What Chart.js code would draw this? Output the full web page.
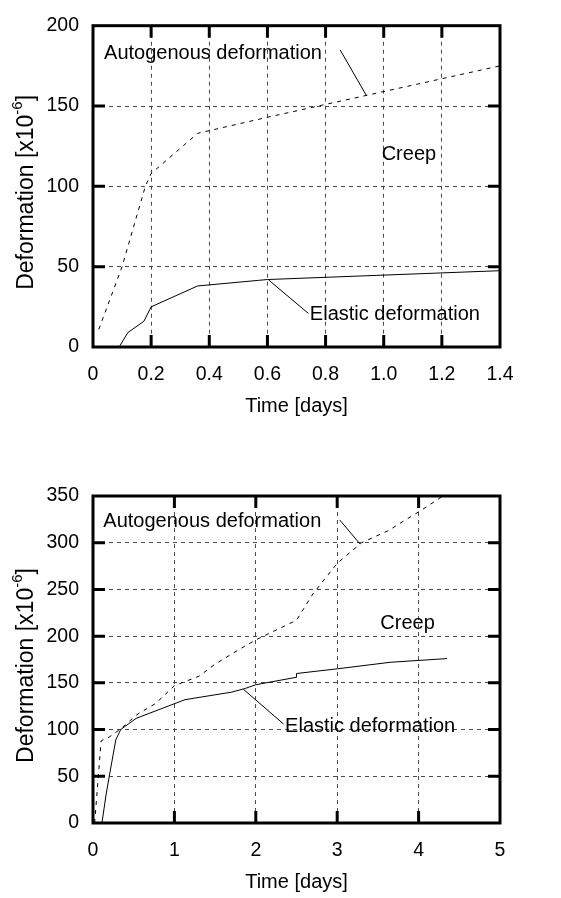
<!DOCTYPE html>
<html>
<head>
<meta charset="utf-8">
<script src="https://cdn.jsdelivr.net/npm/chart.js@4.4.1/dist/chart.umd.min.js"></script>
<style>
  html, body { margin: 0; padding: 0; background: #fff; }
  canvas { display: block; }
</style>
</head>
<body>
<canvas id="early" width="561" height="449"></canvas>
<canvas id="late" width="561" height="449"></canvas>
<script>
// top chart: first 1.4 days
const earlyAutoX = [0.02, 0.1, 0.18, 0.2, 0.36, 0.6, 1.0, 1.4];
const earlyAutoY = [11, 50, 100, 108, 133, 143, 159, 175];
const earlyElasticX = [0.09, 0.12, 0.175, 0.2, 0.36, 0.57, 0.6, 1.4];
const earlyElasticY = [0, 9, 16, 25, 38, 41.5, 42, 47.5];

// bottom chart: up to 5 days
const lateAutoX = [0.02, 0.1, 0.2, 0.33, 0.54, 0.77, 1.0, 1.3, 1.5, 1.8, 2.0, 2.5, 2.7, 3.0, 3.3, 3.63, 3.85, 4.02, 4.3];
const lateAutoY = [0, 88, 92, 100, 116, 128, 147, 157, 170, 186, 196, 217, 245, 278, 300, 313, 325, 334, 350];
const lateElasticX = [0.11, 0.16, 0.2, 0.28, 0.34, 0.53, 0.8, 1.13, 1.7, 1.87, 2.0, 2.5, 2.5, 3.0, 3.65, 4.35];
const lateElasticY = [0, 30, 50, 89, 100, 112, 121, 132, 140, 144, 148, 156, 160, 165, 172, 176];

const FONT = '"Liberation Sans", Arial, sans-serif';

function pairs(xs, ys) {
    return xs.map((v, i) => ({x: v, y: ys[i]}));
}

// frame, inner ticks, notes and the y title with superscript
const framePlugin = {
    id: 'frame',
    afterDraw(chart, args, opts) {
        const ctx = chart.ctx;
        const a = chart.chartArea;
        const xs = chart.scales.x;
        const ys = chart.scales.y;
        ctx.save();
        ctx.setLineDash([]);
        ctx.strokeStyle = '#000';
        ctx.lineWidth = 3;
        ctx.strokeRect(a.left, a.top, a.right - a.left, a.bottom - a.top);
        ctx.beginPath();
        xs.ticks.forEach((t) => {
            const px = xs.getPixelForValue(t.value);
            if (px > a.left + 2 && px < a.right - 2) {
                ctx.moveTo(px, a.bottom); ctx.lineTo(px, a.bottom - 12);
                ctx.moveTo(px, a.top); ctx.lineTo(px, a.top + 12);
            }
        });
        ys.ticks.forEach((t) => {
            const py = ys.getPixelForValue(t.value);
            if (py > a.top + 2 && py < a.bottom - 2) {
                ctx.moveTo(a.left, py); ctx.lineTo(a.left + 12, py);
                ctx.moveTo(a.right, py); ctx.lineTo(a.right - 12, py);
            }
        });
        ctx.stroke();

        // leader lines
        ctx.lineWidth = 1;
        ctx.beginPath();
        opts.leaders.forEach((l) => {
            ctx.moveTo(xs.getPixelForValue(l[0]), ys.getPixelForValue(l[1]));
            ctx.lineTo(xs.getPixelForValue(l[2]), ys.getPixelForValue(l[3]));
        });
        ctx.stroke();

        ctx.fillStyle = '#000';
        ctx.font = '20px ' + FONT;
        ctx.textBaseline = 'middle';
        ctx.textAlign = 'left';
        opts.notes.forEach((n) => {
            ctx.fillText(n.text, xs.getPixelForValue(n.x), ys.getPixelForValue(n.y));
        });

        // y axis title
        const main = 'Deformation [x10';
        const sup = '-6';
        const end = ']';
        ctx.font = '23px ' + FONT;
        const w1 = ctx.measureText(main).width;
        const w3 = ctx.measureText(end).width;
        ctx.font = '15px ' + FONT;
        const w2 = ctx.measureText(sup).width;
        const total = w1 + w2 + w3;
        ctx.translate(opts.titleX, (a.top + a.bottom) / 2 + 6);
        ctx.rotate(-Math.PI / 2);
        ctx.textBaseline = 'middle';
        ctx.font = '23px ' + FONT;
        ctx.fillText(main, -total / 2, 0);
        ctx.font = '15px ' + FONT;
        ctx.fillText(sup, -total / 2 + w1, -9);
        ctx.font = '23px ' + FONT;
        ctx.fillText(end, -total / 2 + w1 + w2, 0);
        ctx.restore();
    }
};

function makeChart(id, autoX, autoY, elX, elY, xMax, xStep, yMax, padTop, xHeight, titlePad, notes, leaders) {
    const ctx = document.getElementById(id).getContext('2d');
    return new Chart(ctx, {
        type: 'scatter',
        data: {
            datasets: [{
                    label: 'Autogenous deformation',
                    data: pairs(autoX, autoY),
                    showLine: true,
                    borderColor: '#000',
                    borderWidth: 1,
                    borderDash: [4, 5],
                    pointRadius: 0,
                    tension: 0
                },
                {
                    label: 'Elastic deformation',
                    data: pairs(elX, elY),
                    showLine: true,
                    borderColor: '#000',
                    borderWidth: 1,
                    pointRadius: 0,
                    tension: 0
                }
            ]
        },
        options: {
            responsive: false,
            animation: false,
            devicePixelRatio: 1,
            layout: {
                padding: {top: padTop, right: 61, left: 0, bottom: 0}
            },
            plugins: {
                legend: {display: false},
                tooltip: {enabled: false},
                frame: {notes: notes, leaders: leaders, titleX: 27}
            },
            scales: {
                x: {
                    type: 'linear',
                    min: 0,
                    max: xMax,
                    afterFit(s) { s.height = xHeight; },
                    ticks: {stepSize: xStep, color: '#000', padding: 16, font: {size: 19.5, family: FONT}},
                    grid: {color: '#4a4a4a', lineWidth: 1, drawTicks: false},
                    border: {display: false, dash: [4, 4]},
                    title: {
                        display: true,
                        text: 'Time [days]',
                        color: '#000',
                        font: {size: 20, family: FONT},
                        padding: {top: 0, bottom: titlePad}
                    }
                },
                y: {
                    type: 'linear',
                    min: 0,
                    max: yMax,
                    afterFit(s) { s.width = 93; },
                    ticks: {stepSize: 50, color: '#000', padding: 14, font: {size: 19.5, family: FONT}},
                    grid: {color: '#4a4a4a', lineWidth: 1, drawTicks: false},
                    border: {display: false, dash: [4, 4]}
                }
            }
        },
        plugins: [framePlugin]
    });
}

makeChart('early', earlyAutoX, earlyAutoY, earlyElasticX, earlyElasticY, 1.4, 0.2, 200, 19, 102, 31,
    [{text: 'Autogenous deformation', x: 0.038, y: 183},
     {text: 'Creep', x: 0.993, y: 120},
     {text: 'Elastic deformation', x: 0.746, y: 20.5}],
    [[0.85, 185, 0.94, 156.7], [0.603, 41.9, 0.741, 20.9]]);

makeChart('late', lateAutoX, lateAutoY, lateElasticX, lateElasticY, 5, 1, 350, 47, 75, 4,
    [{text: 'Autogenous deformation', x: 0.127, y: 322.6},
     {text: 'Creep', x: 3.53, y: 213.8},
     {text: 'Elastic deformation', x: 2.36, y: 103.1}],
    [[3.03, 324.4, 3.28, 298.7], [1.85, 143, 2.34, 106]]);
</script>
</body>
</html>
